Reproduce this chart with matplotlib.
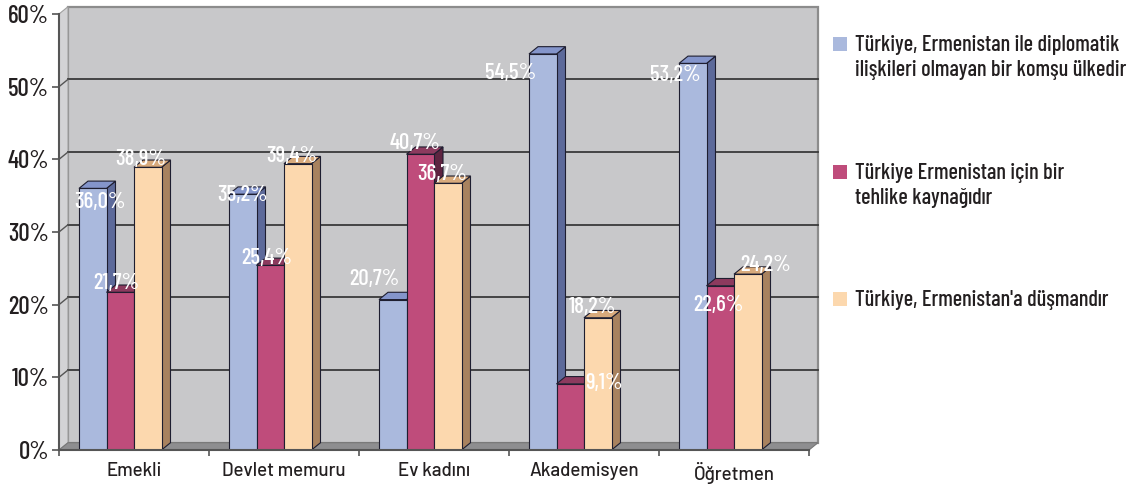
import matplotlib
matplotlib.use("Agg")
import matplotlib.pyplot as plt
from matplotlib.patches import Polygon, Rectangle
from matplotlib import font_manager as fm

# ---------------- data ----------------
categories = ["Emekli", "Devlet memuru", "Ev kadını", "Akademisyen", "Öğretmen"]
series_names = [
    "Türkiye, Ermenistan ile diplomatik\nilişkileri olmayan bir komşu ülkedir",
    "Türkiye Ermenistan için bir\ntehlike kaynağıdır",
    "Türkiye, Ermenistan'a düşmandır",
]
komsu = [36.0, 35.2, 20.7, 54.5, 53.2]
tehlike = [21.7, 25.4, 40.7, 9.1, 22.6]
dusman = [38.9, 39.4, 36.7, 18.2, 24.2]
y_ticks = [0, 10, 20, 30, 40, 50, 60]

# ---------------- style ----------------
front_cols = ["#aab9dd", "#bf4c7b", "#fcd8ae"]
top_cols = ["#8495cb", "#8c3a5e", "#d8aa7c"]
side_cols = ["#5d6a9a", "#5e2440", "#a8825f"]
edge_col = "#1e1e30"
# label offsets (pixels) relative to bar front-top centre, per category per series
label_offsets = [
    [(7, -14), (-4, 9), (-7, 8)],
    [(0, -1), (-4, 7), (-6, 8)],
    [(-18, 21), (-5, 11), (-6, 9)],
    [(-32, -19), (34, 1), (-5, 11)],
    [(-17, -12), (-2, -19), (18, 9)],
]

# ---------------- fonts ----------------
entries = fm.fontManager.ttflist


def find_font(options):
    for name, wts in options:
        for f in entries:
            if f.name == name and f.style == "normal" and f.weight in wts:
                return f.fname
    return None


cond_file = find_font([("Barlow Condensed", (500,)), ("Barlow Condensed", (400, "normal")),
                       ("Roboto Condensed", (400, "normal"))])
wide_file = find_font([("Barlow", (500,)), ("Barlow", (400, "normal")),
                       ("Barlow Semi Condensed", (500,)), ("Roboto", (400, "normal"))])


def make_fp(fname):
    if fname:
        return lambda size: fm.FontProperties(fname=fname, size=size)
    return lambda size: fm.FontProperties(family="DejaVu Sans", stretch="condensed", size=size)


FP = make_fp(cond_file)
FPW = make_fp(wide_file)

# ---------------- figure ----------------
W, H = 1132, 486
fig = plt.figure(figsize=(W / 100, H / 100), dpi=100)
fig.patch.set_facecolor("white")
ax_l, ax_r, ax_b, ax_t = 59, 809, 450, 14
ax = fig.add_axes([ax_l / W, (H - ax_b) / H, (ax_r - ax_l) / W, (ax_b - ax_t) / H])
ncat = len(categories)
ymax = y_ticks[-1]
ax.set_xlim(0, ncat)
ax.set_ylim(0, ymax)
ax.set_facecolor("none")

px_x = (ax_r - ax_l) / ncat
px_y = (ax_b - ax_t) / ymax
dxd = 9 / px_x
dyd = 7.3 / px_y

wall_col = "#c8c8ca"
# back wall
ax.add_patch(Polygon([(dxd, dyd), (ncat + dxd, dyd), (ncat + dxd, ymax + dyd), (dxd, ymax + dyd)],
                     closed=True, facecolor=wall_col, edgecolor="#8c8c8c", lw=1.6,
                     clip_on=False, zorder=1))
# side wall
ax.add_patch(Polygon([(0, 0), (dxd, dyd), (dxd, ymax + dyd), (0, ymax)], closed=True,
                     facecolor="#d3d3d5", edgecolor="#a0a0a0", lw=0.8, clip_on=False, zorder=1))
# floor
ax.add_patch(Polygon([(0, 0), (ncat, 0), (ncat + dxd, dyd), (dxd, dyd)], closed=True,
                     facecolor="#8e8e90", edgecolor="#777777", lw=0.8, clip_on=False, zorder=1.5))
# gridlines
for v in y_ticks[1:-1]:
    ax.plot([dxd, ncat + dxd], [v + dyd, v + dyd], color="#3a3a3a", lw=1.3, zorder=1.2, clip_on=False)
    ax.plot([0, dxd], [v, v + dyd], color="#555555", lw=1.0, zorder=1.2, clip_on=False)

# bars
series = [komsu, tehlike, dusman]
bw = 27.5 / px_x
goff = 20 / px_x
z = 3
for i in range(ncat):
    for s, vals in enumerate(series):
        h = vals[i]
        x0 = i + goff + s * bw
        ax.add_patch(Polygon([(x0 + bw, 0), (x0 + bw + dxd, dyd), (x0 + bw + dxd, h + dyd), (x0 + bw, h)],
                             closed=True, facecolor=side_cols[s], edgecolor=edge_col, lw=0.8, zorder=z))
        ax.add_patch(Polygon([(x0, h), (x0 + bw, h), (x0 + bw + dxd, h + dyd), (x0 + dxd, h + dyd)],
                             closed=True, facecolor=top_cols[s], edgecolor=edge_col, lw=0.8, zorder=z + 0.1))
        ax.add_patch(Rectangle((x0, 0), bw, h, facecolor=front_cols[s], edgecolor=edge_col, lw=0.8,
                               zorder=z + 0.2))
        z += 0.5
        ox, oy = label_offsets[i][s]
        ax.annotate(f"{h:.1f}%".replace(".", ","), (x0 + bw / 2, h), xytext=(ox, oy),
                    textcoords="offset pixels", ha="center", va="center", color="white",
                    fontproperties=FP(16.5), zorder=50, annotation_clip=False)

# axes spines & ticks
for sp in ["top", "right"]:
    ax.spines[sp].set_visible(False)
for sp in ["left", "bottom"]:
    ax.spines[sp].set_color("#555555")
    ax.spines[sp].set_linewidth(1.5)
    ax.spines[sp].set_zorder(60)
ax.set_yticks(y_ticks)
ax.set_yticklabels([f"{v}%" for v in y_ticks])
for lab in ax.get_yticklabels():
    lab.set_fontproperties(FP(18))
    lab.set_color("#231f20")
ax.tick_params(axis="y", direction="out", length=5, width=1.2, color="#555555", pad=2)
ax.set_xticks(range(ncat + 1))
ax.set_xticklabels([])
ax.tick_params(axis="x", which="major", direction="out", length=4, width=1.2, color="#555555")
ax.set_xticks([i + 0.5 for i in range(ncat)], minor=True)
ax.set_xticklabels(categories, minor=True)
ax.tick_params(axis="x", which="minor", length=0, pad=8.5)
for lab in ax.get_xticklabels(minor=True):
    lab.set_fontproperties(FPW(13.5))
    lab.set_color("#231f20")

# legend (manual)
leg_y = [44, 172, 299]
for s, name in enumerate(series_names):
    cy = leg_y[s]
    fig.patches.append(Rectangle((833 / W, 1 - (cy + 7) / H), 14 / W, 14 / H, transform=fig.transFigure,
                                 facecolor=front_cols[s], edgecolor="none"))
    for k, line in enumerate(name.split("\n")):
        fig.text(855 / W, 1 - (cy + 1 + 25.5 * k) / H, line, ha="left", va="center",
                 fontproperties=FP(16), color="#231f20")

fig.savefig("out.png", dpi=100)
